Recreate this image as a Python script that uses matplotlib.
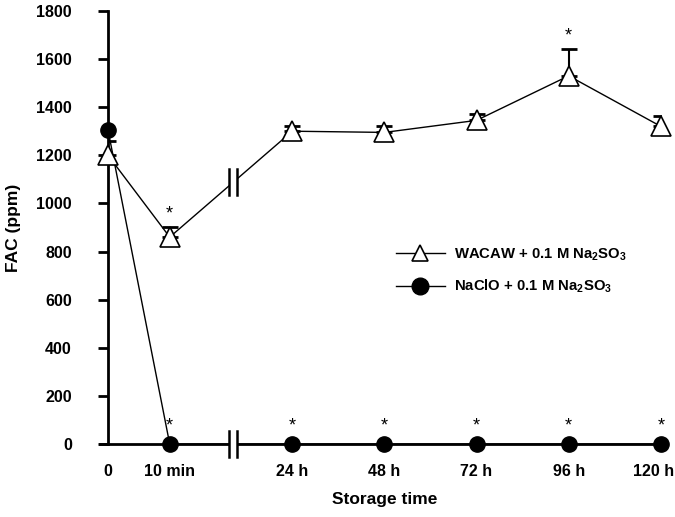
import matplotlib.pyplot as plt
import matplotlib.transforms as mtransforms
from matplotlib.lines import Line2D
import numpy as np

plt.rcParams['font.family'] = ['Liberation Sans', 'DejaVu Sans']
plt.rcParams['font.weight'] = 'bold'
plt.rcParams['axes.labelweight'] = 'bold'
plt.rcParams['mathtext.fontset'] = 'custom'
plt.rcParams['mathtext.rm'] = 'Liberation Sans:bold'
plt.rcParams['mathtext.it'] = 'Liberation Sans:bold'
plt.rcParams['mathtext.bf'] = 'Liberation Sans:bold'

# positions on the broken axis (0, 10 min, then 24 h ... 120 h)
xpos = [0, 0.67, 2, 3, 4, 5, 6]
xlabels = ["0", "10 min", "24 h", "48 h", "72 h", "96 h", "120 h"]

wacaw = [1200, 860, 1300, 1295, 1345, 1530, 1320]
wacaw_err = [60, 40, 20, 25, 25, 110, 45]
naclo = [1305, 0, 0, 0, 0, 0, 0]

# where the asterisks go
star_wacaw = [1, 5]
star_naclo = [1, 2, 3, 4, 5, 6]

brk = 1.36

fig = plt.figure(figsize=(6.75, 5.17), dpi=100)
ax = fig.add_axes([0.16, 0.141, 0.819, 0.838])

ax.errorbar(xpos, wacaw, yerr=[np.zeros(7), wacaw_err], fmt='none', ecolor='black',
            elinewidth=1.5, capsize=6, capthick=2, zorder=2)
ax.plot(xpos, wacaw, '-', color='black', lw=1, zorder=1)
ax.plot(xpos, wacaw, '^', color='black', mfc='white', mew=1.2, ms=14, ls='none',
        zorder=3, clip_on=False)
ax.plot(xpos, naclo, '-', color='black', lw=1, zorder=1)
ax.plot(xpos, naclo, 'o', color='black', ms=11, ls='none', zorder=4, clip_on=False)

for i in star_wacaw:
    ax.text(xpos[i], wacaw[i] + wacaw_err[i] + 20, '*', ha='center', va='bottom',
            fontsize=13, fontweight='normal')
for i in star_naclo:
    ax.text(xpos[i], 40, '*', ha='center', va='bottom', fontsize=13, fontweight='normal')

# break marks
ybrk = np.interp(brk, [xpos[1], xpos[2]], [wacaw[1], wacaw[2]])
for yb, h in [(ybrk, 55), (0, 55)]:
    ax.fill_between([brk - 0.04, brk + 0.04], yb - h, yb + h, color='white', zorder=5,
                    clip_on=False, lw=0)
    for dx in (-0.045, 0.045):
        ax.plot([brk + dx, brk + dx], [yb - h, yb + h], color='black', lw=1.8, zorder=6,
                clip_on=False)

ax.set_xlim(0, 6)
ax.set_ylim(0, 1800)
ax.set_yticks(np.arange(0, 1801, 200))
ax.set_xticks(xpos)
ax.set_xticklabels(xlabels)
ax.tick_params(axis='y', direction='out', length=7, width=2, pad=19, labelsize=11.5)
ax.tick_params(axis='x', length=0, pad=14, labelsize=11.5)
# last label sits a bit left of its point, as in the original
lab = ax.get_xticklabels()[-1]
lab.set_transform(lab.get_transform() + mtransforms.ScaledTranslation(-7 / 100, 0, fig.dpi_scale_trans))

for s in ['top', 'right']:
    ax.spines[s].set_visible(False)
ax.spines['left'].set_linewidth(2)
ax.spines['bottom'].set_linewidth(2)
ax.spines['bottom'].set_bounds(-0.09, 6)
ax.spines['bottom'].set_zorder(0)

ax.set_ylabel('FAC (ppm)', fontsize=12.5)
ax.yaxis.set_label_coords(-0.158, 0.5)
ax.set_xlabel('Storage time', fontsize=12.5, labelpad=10)

h1 = Line2D([], [], color='black', lw=1, marker='^', mfc='white', ms=12, mew=1.2)
h2 = Line2D([], [], color='black', lw=1, marker='o', ms=12)
ax.legend([h1, h2], ['WACAW + 0.1 M Na$_2$SO$_3$', 'NaClO + 0.1 M Na$_2$SO$_3$'],
          loc='center left', bbox_to_anchor=(0.51, 0.40), frameon=False,
          fontsize=10.7, handlelength=3.3, handletextpad=0.6, borderaxespad=0,
          labelspacing=1.0)

fig.savefig('out.png', dpi=100)
